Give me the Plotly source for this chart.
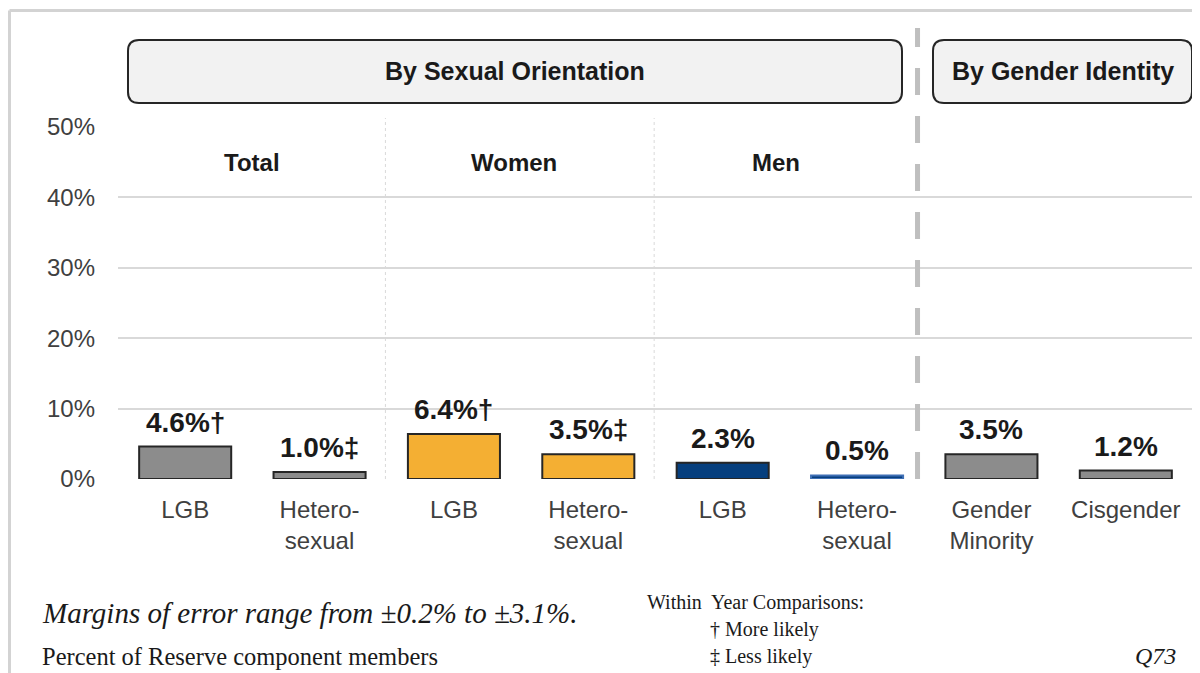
import plotly.graph_objects as go

# ---------------- data ----------------
categories = ["LGB", "Hetero-<br>sexual", "LGB", "Hetero-<br>sexual",
              "LGB", "Hetero-<br>sexual", "Gender<br>Minority", "Cisgender"]
values = [4.6, 1.0, 6.4, 3.5, 2.3, 0.5, 3.5, 1.2]
markers = ["†", "‡", "†", "‡", "", "", "", ""]
bar_colors = ["#8c8c8c", "#8c8c8c", "#f4af33", "#f4af33",
              "#063f7e", "#063f7e", "#8c8c8c", "#8c8c8c"]
line_colors = ["#262626", "#262626", "#262626", "#262626",
               "#262626", "#3f6fb5", "#262626", "#262626"]
groups = ["Total", "Women", "Men"]
group_pos = [0.5, 2.45, 4.4]
y_ticks = [0, 10, 20, 30, 40, 50]
y_tick_text = ["0%", "10%", "20%", "30%", "40%", "50%"]

# the page places the figure 8px from the top-left corner
OFF = 8
W, H = 1200 - OFF, 673 - OFF
PLOT_L, PLOT_R, PLOT_T, PLOT_B = 118, 1193, 127, 479   # page pixels
ML, MR = PLOT_L - OFF, W - (PLOT_R - OFF)
MT, MB = PLOT_T - OFF, H - (PLOT_B - OFF)
PW, PH = PLOT_R - PLOT_L, PLOT_B - PLOT_T


def px(x):
    return (x - PLOT_L) / PW


def py(y):
    return (PLOT_B - y) / PH


SANS = "Liberation Sans, Arial, sans-serif"
SERIF = "Liberation Serif, Times New Roman, serif"

xs = list(range(len(categories)))

fig = go.Figure()
fig.add_trace(go.Bar(
    x=xs, y=values, width=0.685,
    marker=dict(color=bar_colors, line=dict(color=line_colors, width=2)),
    hoverinfo="skip",
))

annotations = []
for x, v, m in zip(xs, values, markers):
    annotations.append(dict(
        x=x, y=v, xref="x", yref="y", text=f"<b>{v:.1f}%{m}</b>",
        showarrow=False, yanchor="bottom", yshift=7,
        font=dict(family=SANS, size=28, color="#1a1a1a")))

for g, gp in zip(groups, group_pos):
    annotations.append(dict(
        x=gp, y=45, xref="x", yref="y", text=f"<b>{g}</b>",
        showarrow=False, yanchor="middle",
        font=dict(family=SANS, size=24, color="#1a1a1a")))


def rounded(x0, y0, x1, y1, r=11):
    def P(a, b):
        return f"{px(a):.5f},{py(b):.5f}"
    return (f"M {P(x0 + r, y0)} L {P(x1 - r, y0)} Q {P(x1, y0)} {P(x1, y0 + r)} "
            f"L {P(x1, y1 - r)} Q {P(x1, y1)} {P(x1 - r, y1)} "
            f"L {P(x0 + r, y1)} Q {P(x0, y1)} {P(x0, y1 - r)} "
            f"L {P(x0, y0 + r)} Q {P(x0, y0)} {P(x0 + r, y0)} Z")


headers = ["By Sexual Orientation", "By Gender Identity"]
header_boxes = [(128, 40, 902, 103), (933, 40, 1192, 103)]

shapes = []
# outer frame lines
shapes.append(dict(type="line", xref="paper", yref="paper",
                   x0=px(9.5), x1=px(1210), y0=py(10.5), y1=py(10.5),
                   line=dict(color="#d3d3d3", width=3)))
shapes.append(dict(type="line", xref="paper", yref="paper",
                   x0=px(9.5), x1=px(9.5), y0=py(10.5), y1=py(690),
                   line=dict(color="#d3d3d3", width=3)))

for t, (x0, y0, x1, y1) in zip(headers, header_boxes):
    shapes.append(dict(type="path", xref="paper", yref="paper",
                       path=rounded(x0, y0, x1, y1),
                       fillcolor="#f2f2f2", line=dict(color="#262626", width=2)))
    annotations.append(dict(
        x=px((x0 + x1) / 2), y=py((y0 + y1) / 2), xref="paper", yref="paper",
        text=f"<b>{t}</b>", showarrow=False, xanchor="center", yanchor="middle",
        font=dict(family=SANS, size=25, color="#1a1a1a")))

# dotted separators between groups
for sx in [1.49, 3.49]:
    shapes.append(dict(type="line", xref="x", yref="paper",
                       x0=sx, x1=sx, y0=0, y1=py(118),
                       line=dict(color="#d9d9d9", width=1, dash="dot"), layer="below"))
# dashed divider
shapes.append(dict(type="line", xref="x", yref="paper",
                   x0=5.45, x1=5.45, y0=0, y1=py(28),
                   line=dict(color="#bfbfbf", width=5, dash="27px,21px")))

# footer texts
annotations += [
    dict(x=px(40), y=py(613), xref="paper", yref="paper", xanchor="left", yanchor="middle",
         text="<i>Margins of error range from ±0.2% to ±3.1%.</i>", showarrow=False,
         font=dict(family=SERIF, size=29, color="#1a1a1a")),
    dict(x=px(40), y=py(656), xref="paper", yref="paper", xanchor="left", yanchor="middle",
         text="Percent of Reserve component members", showarrow=False,
         font=dict(family=SERIF, size=24.5, color="#1a1a1a")),
    dict(x=px(645), y=py(602), xref="paper", yref="paper", xanchor="left", yanchor="middle",
         text="Within  Year Comparisons:", showarrow=False,
         font=dict(family=SERIF, size=20, color="#1a1a1a")),
    dict(x=px(708), y=py(629), xref="paper", yref="paper", xanchor="left", yanchor="middle",
         text="† More likely", showarrow=False,
         font=dict(family=SERIF, size=20, color="#1a1a1a")),
    dict(x=px(708), y=py(656), xref="paper", yref="paper", xanchor="left", yanchor="middle",
         text="‡ Less likely", showarrow=False,
         font=dict(family=SERIF, size=20, color="#1a1a1a")),
    dict(x=px(1178), y=py(656), xref="paper", yref="paper", xanchor="right", yanchor="middle",
         text="<i>Q73</i>", showarrow=False,
         font=dict(family=SERIF, size=24, color="#1a1a1a")),
]

fig.update_layout(
    width=W, height=H,
    margin=dict(l=ML, r=MR, t=MT, b=MB, pad=0),
    paper_bgcolor="white", plot_bgcolor="white",
    showlegend=False,
    annotations=annotations, shapes=shapes,
    xaxis=dict(range=[-0.5, len(categories) - 0.5], tickmode="array",
               tickvals=xs, ticktext=categories, showgrid=False, zeroline=False,
               showline=False, ticks="", ticklabelstandoff=14,
               tickfont=dict(family=SANS, size=24, color="#404040")),
    yaxis=dict(range=[0, 50], tickvals=y_ticks, ticktext=y_tick_text,
               showgrid=True, gridcolor="#d9d9d9", gridwidth=2,
               zeroline=False, showline=False, ticks="", ticklabelstandoff=22,
               tickfont=dict(family=SANS, size=24, color="#404040")),
    bargap=0.3,
)

fig.write_html("out.html")
